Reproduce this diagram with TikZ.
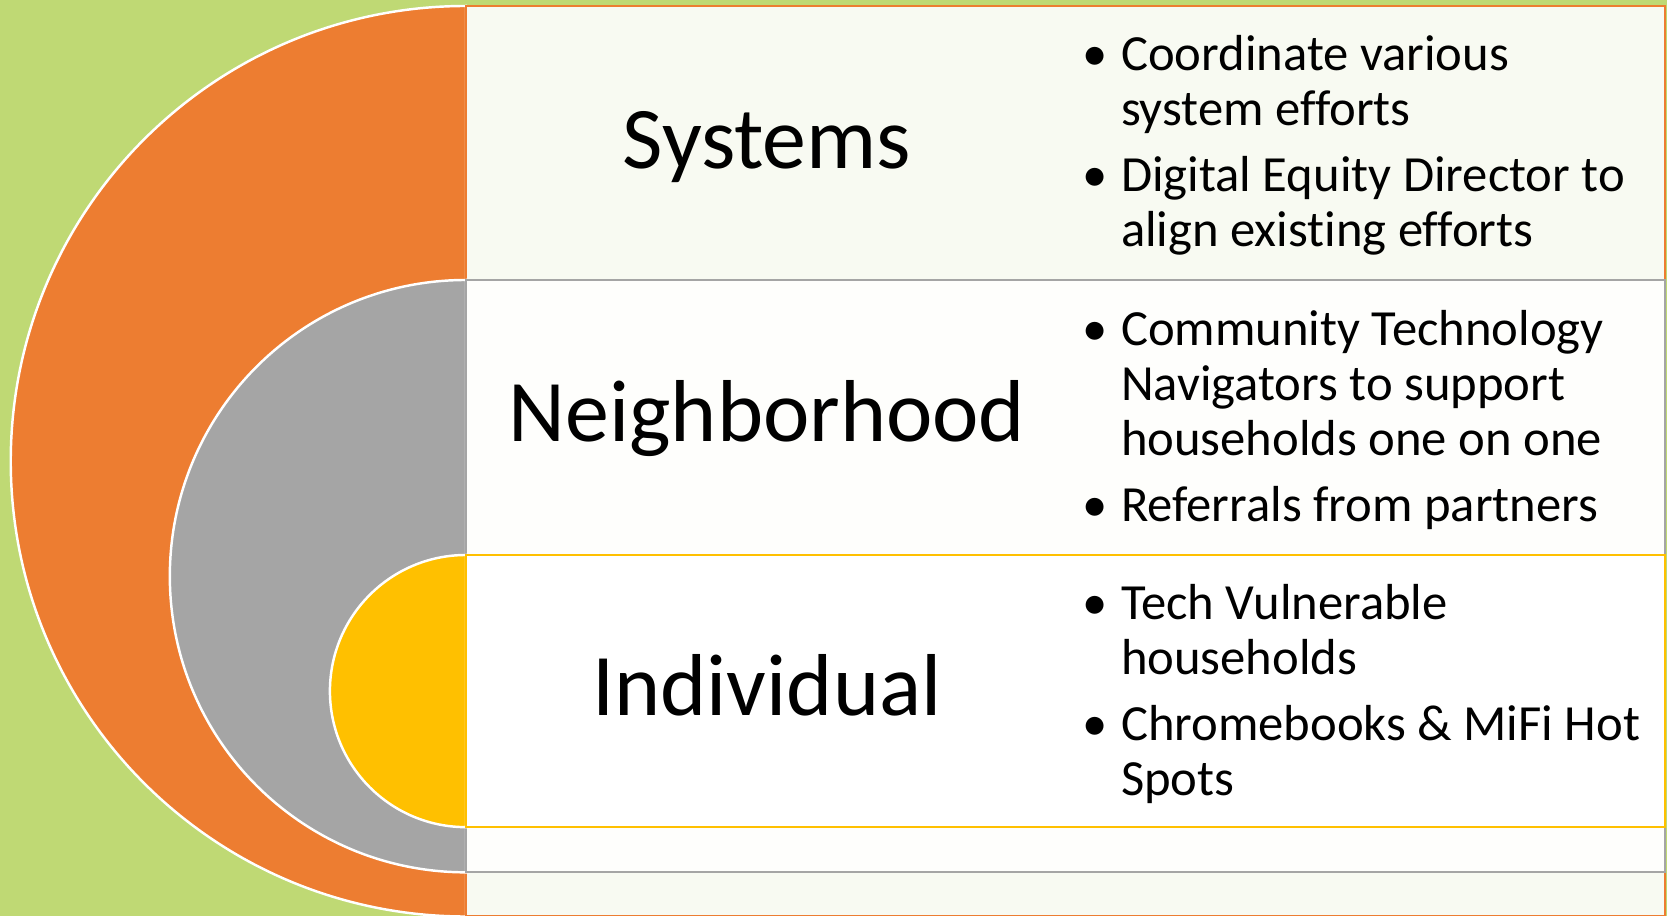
\documentclass[tikz,border=0pt]{standalone}
\usepackage{fontspec}
\setmainfont[Ligatures=NoCommon]{Carlito}
\definecolor{bggreen}{HTML}{BFD974}
\definecolor{orng}{HTML}{ED7D31}
\definecolor{gry}{HTML}{A5A5A5}
\definecolor{ylw}{HTML}{FFC000}
\definecolor{paleband}{HTML}{F8FAF2}
\definecolor{whiteband}{HTML}{FEFEFC}
\tikzset{
  half/.style={draw=white, line width=0.7pt},
  band/.style={line width=0.7pt},
  title/.style={font=\fontsize{25}{30}\selectfont, inner sep=0pt, anchor=base},
  notes/.style={font=\fontsize{14.4}{15.7}\selectfont, anchor=west, inner sep=0pt, align=left}
}
\newcommand{\itm}{\textbullet\hspace{0.26em}}
\newcommand{\ind}{\hphantom{\textbullet}\hspace{0.26em}}
\begin{document}
\begin{tikzpicture}[x=0.01cm,y=0.01cm]
\useasboundingbox (0,0) rectangle (1667,916);
\fill[bggreen] (0,0) rectangle (1667,916);
% systems
\path[half, fill=orng] (466,910) arc[start angle=90, end angle=270, radius=4.55cm] -- cycle;
\path[band, draw=orng, fill=paleband] (466,0) rectangle (1665,910);
% neighborhood
\path[half, fill=gry] (466,636) arc[start angle=90, end angle=270, radius=2.96cm] -- cycle;
\path[band, draw=gry, fill=whiteband] (466,44) rectangle (1665,636);
% individual
\path[half, fill=ylw] (466,361) arc[start angle=90, end angle=270, radius=1.36cm] -- cycle;
\path[band, draw=ylw, fill=white] (466,89) rectangle (1665,361);

\node[title] (sys) at (767,747) {Systems};
\node[title] (nbh) at (767,474) {Neighborhood};
\node[title] (ind) at (767,200) {Individual};

\node[notes] (sysnotes) at (1082,771) {\itm Coordinate various\\ \ind system efforts\\[3pt] \itm Digital Equity Director to\\ \ind align existing efforts};
\node[notes] (nbhnotes) at (1082,496) {\itm Community Technology\\ \ind Navigators to support\\ \ind households one on one\\[3pt] \itm Referrals from partners};
\node[notes] (indnotes) at (1082,222) {\itm Tech Vulnerable\\ \ind households\\[3pt] \itm Chromebooks \& MiFi Hot\\ \ind Spots};
\end{tikzpicture}
\end{document}
